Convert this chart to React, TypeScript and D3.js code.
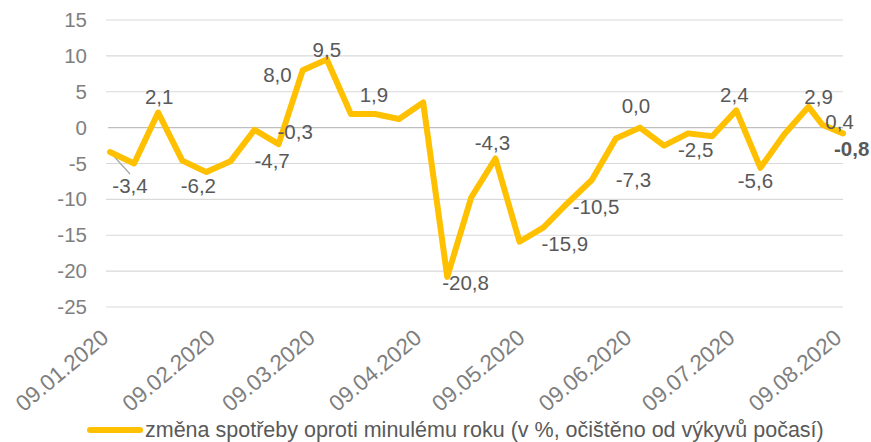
import React, { useEffect, useRef } from 'react';
import * as d3 from 'd3';

// weekly consumption change vs previous year (%)
const dates = [
  '2020-01-09', '2020-01-16', '2020-01-23', '2020-01-30',
  '2020-02-06', '2020-02-13', '2020-02-20', '2020-02-27',
  '2020-03-05', '2020-03-12', '2020-03-19', '2020-03-26',
  '2020-04-02', '2020-04-09', '2020-04-16', '2020-04-23', '2020-04-30',
  '2020-05-07', '2020-05-14', '2020-05-21', '2020-05-28',
  '2020-06-04', '2020-06-11', '2020-06-18', '2020-06-25',
  '2020-07-02', '2020-07-09', '2020-07-16', '2020-07-23', '2020-07-30',
  '2020-08-03', '2020-08-09',
];
const values = [
  -3.4, -5.0, 2.1, -4.6,
  -6.2, -4.7, -0.3, -2.3,
  8.0, 9.5, 1.9, 1.9,
  1.2, 3.5, -20.8, -9.7, -4.3,
  -15.9, -13.9, -10.5, -7.3,
  -1.5, 0.0, -2.5, -0.8,
  -1.2, 2.4, -5.6, -0.9, 2.9,
  0.4, -0.8,
];
const tickDates = [
  '2020-01-09', '2020-02-09', '2020-03-09', '2020-04-09',
  '2020-05-09', '2020-06-09', '2020-07-09', '2020-08-09',
];
const yTicks = [15, 10, 5, 0, -5, -10, -15, -20, -25];
const seriesName = 'změna spotřeby oproti minulému roku (v %, očištěno od výkyvů počasí)';

// which points carry a value label, and where it sits relative to the point
const labelLayout = {
  0: { anchor: 'middle', dx: 20, dy: 41 },
  2: { anchor: 'middle', dx: 1, dy: -9 },
  4: { anchor: 'middle', dx: -8, dy: 21 },
  5: { anchor: 'start', dx: 24, dy: 7 },
  6: { anchor: 'start', dx: 23, dy: 9 },
  8: { anchor: 'end', dx: -11, dy: 12 },
  9: { anchor: 'middle', dx: 0, dy: -2 },
  11: { anchor: 'middle', dx: -1, dy: -12 },
  14: { anchor: 'start', dx: -5, dy: 13 },
  16: { anchor: 'middle', dx: -3, dy: -8 },
  17: { anchor: 'start', dx: 22, dy: 9 },
  19: { anchor: 'start', dx: 5, dy: 11 },
  20: { anchor: 'start', dx: 24, dy: 7 },
  22: { anchor: 'middle', dx: -4, dy: -15 },
  23: { anchor: 'start', dx: 14, dy: 11 },
  26: { anchor: 'middle', dx: -2, dy: -8 },
  27: { anchor: 'middle', dx: -5, dy: 20 },
  29: { anchor: 'middle', dx: 10, dy: -3 },
  30: { anchor: 'start', dx: 3, dy: 4 },
  31: { anchor: 'start', dx: -9, dy: 23, bold: true },
};

const FONT = '"Liberation Sans", Arial, sans-serif';
const GOLD = '#FFC000';

function App() {
  const ref = useRef(null);

  useEffect(() => {
    const element = ref.current;
    if (!element) return;
    element.innerHTML = '';

    const width = 871;
    const height = 442;
    const parse = d3.timeParse('%Y-%m-%d');
    const fmtTick = d3.timeFormat('%d.%m.%Y');
    const fmtVal = (v) => d3.format('.1f')(v).replace('\u2212', '-').replace('.', ',');

    const data = dates.map((d, i) => ({ date: parse(d), value: values[i], i }));

    const x = d3
      .scaleTime()
      .domain([parse(tickDates[0]), parse(tickDates[tickDates.length - 1])])
      .range([110, 843]);
    const y = d3.scaleLinear().domain([-25, 15]).range([307, 20]);

    const svg = d3
      .select(element)
      .append('svg')
      .attr('width', width)
      .attr('height', height)
      .style('position', 'absolute')
      .style('left', 0)
      .style('top', 0)
      .style('font-family', FONT);

    // gridlines
    svg
      .append('g')
      .selectAll('line')
      .data(yTicks.filter((t) => t !== 0))
      .join('line')
      .attr('x1', 106)
      .attr('x2', 843)
      .attr('y1', (d) => y(d))
      .attr('y2', (d) => y(d))
      .attr('stroke', '#d9d9d9')
      .attr('stroke-width', 1.2);

    svg
      .append('line')
      .attr('x1', 108)
      .attr('x2', 843)
      .attr('y1', y(0))
      .attr('y2', y(0))
      .attr('stroke', '#bfbfbf')
      .attr('stroke-width', 1.4);

    // y tick labels
    svg
      .append('g')
      .selectAll('text')
      .data(yTicks)
      .join('text')
      .attr('x', 87)
      .attr('y', (d) => y(d) + 7)
      .attr('text-anchor', 'end')
      .attr('fill', '#7f7f7f')
      .style('font-size', '20.5px')
      .text((d) => d);

    // x tick labels
    svg
      .append('g')
      .selectAll('text')
      .data(tickDates.map(parse))
      .join('text')
      .attr('transform', (d) => `translate(${x(d)},340) rotate(-40)`)
      .attr('text-anchor', 'end')
      .attr('fill', '#7f7f7f')
      .style('font-size', '22.5px')
      .text((d) => fmtTick(d));

    // leader line for first label
    const first = data[0];
    svg
      .append('line')
      .attr('x1', x(first.date))
      .attr('y1', y(first.value))
      .attr('x2', x(first.date) + 20)
      .attr('y2', y(first.value) + 22)
      .attr('stroke', '#a6a6a6')
      .attr('stroke-width', 1.2);

    // the series
    const line = d3
      .line()
      .x((d) => x(d.date))
      .y((d) => y(d.value));

    svg
      .append('path')
      .datum(data)
      .attr('d', line)
      .attr('fill', 'none')
      .attr('stroke', GOLD)
      .attr('stroke-width', 6)
      .attr('stroke-linejoin', 'round')
      .attr('stroke-linecap', 'round');

    // value labels
    const labelled = data.filter((d) => labelLayout[d.i]);
    svg
      .append('g')
      .selectAll('text')
      .data(labelled)
      .join('text')
      .attr('x', (d) => x(d.date) + labelLayout[d.i].dx)
      .attr('y', (d) => y(d.value) + labelLayout[d.i].dy)
      .attr('text-anchor', (d) => labelLayout[d.i].anchor)
      .attr('fill', '#595959')
      .style('font-size', '20.5px')
      .style('font-weight', (d) => (labelLayout[d.i].bold ? 'bold' : 'normal'))
      .text((d) => fmtVal(d.value));

    // legend
    const legend = svg.append('g');
    legend
      .append('line')
      .attr('x1', 90)
      .attr('x2', 140)
      .attr('y1', 430)
      .attr('y2', 430)
      .attr('stroke', GOLD)
      .attr('stroke-width', 6)
      .attr('stroke-linecap', 'round');
    legend
      .append('text')
      .attr('x', 145)
      .attr('y', 437)
      .attr('fill', '#595959')
      .style('font-size', '21.5px')
      .text(seriesName);
  }, []);

  return <div ref={ref} />;
}

export default App;
